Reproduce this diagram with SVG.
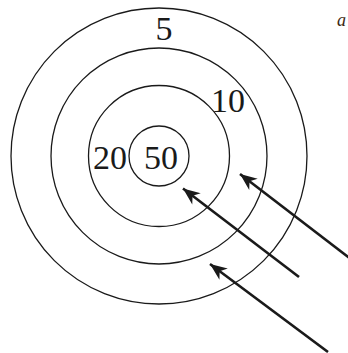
<svg xmlns="http://www.w3.org/2000/svg" width="348" height="353" viewBox="0 0 348 353">
<style>
.ring{fill:none;stroke:#1a1a1a;stroke-width:1.3}
.lbl{font-family:"Liberation Serif",serif;font-size:34px;fill:#1a1a1a}
.arr{stroke:#1a1a1a;stroke-width:2.6;fill:none;marker-end:url(#ah)}
</style>
<defs>
<marker id="ah" markerUnits="userSpaceOnUse" markerWidth="24" markerHeight="20" viewBox="-18 -10 20 20" refX="0" refY="0" orient="auto">
<path d="M0,0 L-17,-7 L-12,0 L-17,7 Z" fill="#1a1a1a"/>
</marker>
</defs>
<rect width="348" height="353" fill="#fff"/>
<g id="ring5"><circle class="ring" cx="159" cy="156" r="148"/><text class="lbl" x="164" y="40" text-anchor="middle">5</text></g>
<g id="ring10"><circle class="ring" cx="159" cy="156" r="108"/><text class="lbl" x="228" y="112" text-anchor="middle">10</text></g>
<g id="ring20"><circle class="ring" cx="159" cy="156" r="70.5"/><text class="lbl" x="110" y="169" text-anchor="middle">20</text></g>
<g id="ring50"><circle class="ring" cx="159" cy="156" r="30"/><text class="lbl" x="161" y="169" text-anchor="middle">50</text></g>
<g id="corner"><text x="337" y="26" font-family="Liberation Serif,serif" font-style="italic" font-size="18" fill="#3a2810">a</text></g>
<g id="connectors">
<line class="arr" x1="352" y1="260" x2="240" y2="174"/>
<line class="arr" x1="299" y1="277" x2="183" y2="188.5"/>
<line class="arr" x1="328" y1="352" x2="210" y2="264"/>
</g>
</svg>
